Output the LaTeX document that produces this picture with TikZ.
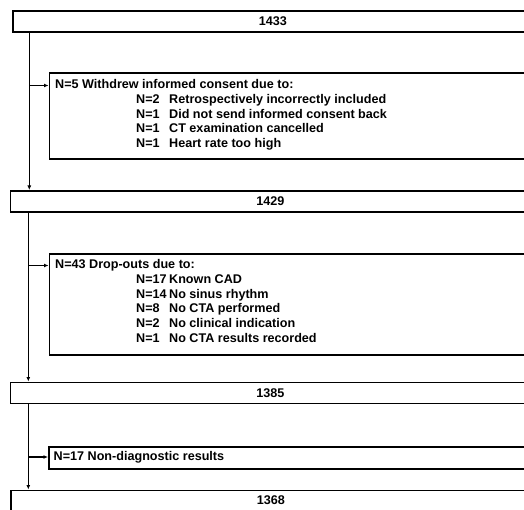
\documentclass[tikz,border=0pt]{standalone}
\usepackage{fontspec}
\setmainfont{Liberation Sans}
\usetikzlibrary{arrows.meta}

\tikzset{
  countbox/.style={draw=black, line width=1.9pt, rectangle, anchor=north west,
    minimum width=520pt, minimum height=21pt, inner sep=0pt},
  sidebox/.style={draw=black, line width=1.9pt, rectangle, anchor=north west,
    minimum width=500pt, inner sep=0pt},
  flow/.style={line width=1.3pt, -{Latex[length=4.5pt, width=4pt]}},
  entry/.style={anchor=west, inner sep=0pt, text height=9pt, text depth=3pt},
}

\begin{document}
\begin{tikzpicture}[x=1pt, y=-1pt, font=\fontsize{12.6}{14}\selectfont\bfseries]

\useasboundingbox (0,0) rectangle (524,510);
\fill[white] (0,0) rectangle (524,510);
\clip (0,0) rectangle (524,510);

%% ------------------------------------------------------------------
%% patient counts down the left; the boxes run off the right edge
%% ------------------------------------------------------------------
\node[countbox] (n1433) at (12,10)    {1433};
\node[countbox] (n1429) at (9.5,190)  {1429};
\node[countbox] (n1385) at (9.5,381.5){1385};
\node[countbox, minimum height=20pt] (n1368) at (10,489.5) {1368};

% the trunk lines
\coordinate (t1) at (29.3,0);
\coordinate (t2) at (28.3,0);

%% ------------------------------------------------------------------
%% exclusions between the counts
%% ------------------------------------------------------------------
% withdrawn consent
\node[sidebox, minimum height=86.5pt] (wd) at (48.5,72) {};
\node[entry] (wd0) at (55,85.5) {N=5 Withdrew informed consent due to:};
\foreach \i/\n/\why in {1/N=2/Retrospectively incorrectly included,
                        2/N=1/Did not send informed consent back,
                        3/N=1/CT examination cancelled,
                        4/N=1/Heart rate too high}{
  \node[entry] (wd-n\i) at (136,85.5+14.8*\i) {\n};
  \node[entry] (wd-r\i) at (169,85.5+14.8*\i) {\why};
}

% drop-outs
\node[sidebox, minimum height=101pt] (do) at (48.5,253) {};
\node[entry] (do0) at (55,265.5) {N=43 Drop-outs due to:};
\foreach \i/\n/\why in {1/N=17/Known CAD,
                        2/N=14/No sinus rhythm,
                        3/N=8/No CTA performed,
                        4/N=2/No clinical indication,
                        5/N=1/No CTA results recorded}{
  \node[entry] (do-n\i) at (136,265.5+14.8*\i) {\n};
  \node[entry] (do-r\i) at (169,265.5+14.8*\i) {\why};
}

% non-diagnostic scans
\node[sidebox, minimum height=22pt] (nd) at (48,446) {};
\node[entry] (nd0) at (53.5,457) {N=17 Non-diagnostic results};

%% ------------------------------------------------------------------
%% connectors
%% ------------------------------------------------------------------
\draw[flow] (n1433.south -| t1) -- (n1429.north -| t1);
\draw[flow] (wd0 -| t1) -- (wd0 -| wd.west);

\draw[flow] (n1429.south -| t2) -- (n1385.north -| t2);
\draw[flow] (do0 -| t2) -- (do0 -| do.west);

\draw[flow] (n1385.south -| t2) -- (n1368.north -| t2);
\draw[flow] (nd0 -| t2) -- (nd0 -| nd.west);

\end{tikzpicture}
\end{document}
